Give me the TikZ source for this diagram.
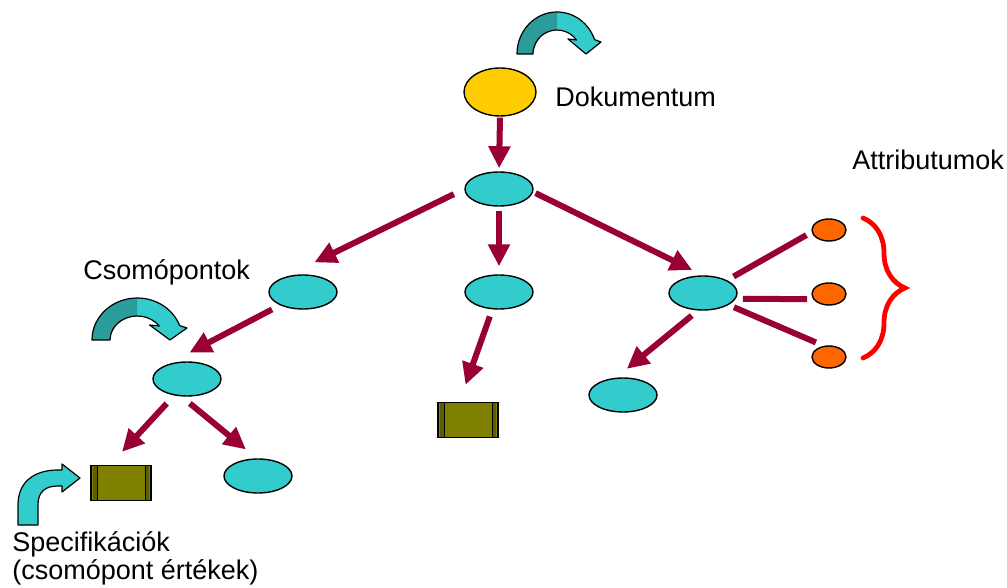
\documentclass[tikz,border=0pt]{standalone}
\usepackage{fontspec}
\setmainfont{Liberation Sans}
\usepackage{xcolor}
\usepackage{tikz}
\usetikzlibrary{shapes.geometric,arrows.meta,decorations.pathreplacing}
\definecolor{arrred}{HTML}{990033}
\definecolor{nodecyan}{HTML}{33CCCC}
\definecolor{docyellow}{HTML}{FFCC00}
\definecolor{attrorange}{HTML}{FF6600}
\definecolor{bracered}{HTML}{FF0000}
\definecolor{specolive}{HTML}{808000}
\definecolor{specdark}{HTML}{5E5E00}
\definecolor{tealL}{HTML}{33CCCC}
\definecolor{tealD}{HTML}{2B9C99}
\tikzset{
  elem/.style={ellipse, draw=black, line width=0.7pt, fill=nodecyan, minimum width=34pt, minimum height=17pt, inner sep=0pt},
  docnode/.style={elem, fill=docyellow, minimum width=36pt, minimum height=24pt},
  attr/.style={elem, fill=attrorange, minimum width=17pt, minimum height=11pt},
  spec/.style={rectangle, draw=black, line width=0.7pt, fill=specolive, minimum width=30pt, minimum height=17.5pt, inner sep=0pt,
    path picture={
      \fill[specdark] ([xshift=1pt]path picture bounding box.south west) rectangle ([xshift=3pt]path picture bounding box.north west);
      \fill[specdark] ([xshift=-1pt]path picture bounding box.south east) rectangle ([xshift=-3pt]path picture bounding box.north east);
      \draw[line width=0.5pt] ([xshift=3pt]path picture bounding box.south west) -- ([xshift=3pt]path picture bounding box.north west);
      \draw[line width=0.5pt] ([xshift=-3pt]path picture bounding box.south east) -- ([xshift=-3pt]path picture bounding box.north east);
    }},
  arr/.style={draw=arrred, line width=3pt, -{Triangle[length=11pt,width=10.5pt]}},
  link/.style={draw=arrred, line width=3pt},
  curly/.style={draw=bracered, line width=2.4pt, line cap=round, decorate, decoration={brace, amplitude=21pt}},
  lab/.style={font=\fontsize{13.5}{12}\selectfont, inner sep=0pt, anchor=base west, align=left},
  outl/.style={draw=black, line width=0.6pt, line join=round},
  turnarrow/.pic={
    \fill[tealL] (0,0) arc[start angle=180, end angle=340, x radius=40, y radius=42] -- (84,-12) -- (69,0) -- (51,-15) -- (59.5,-14)
      arc[start angle=324.3, end angle=180, radius=24] -- cycle;
    \fill[tealD] (0,0) arc[start angle=180, end angle=270, x radius=40, y radius=42] -- (40,-24)
      arc[start angle=270, end angle=180, radius=24] -- cycle;
    \draw[outl] (0,0) arc[start angle=180, end angle=340, x radius=40, y radius=42] -- (84,-12) -- (69,0) -- (51,-15) -- (59.5,-14)
      arc[start angle=324.3, end angle=180, radius=24] -- cycle;
  }
}

\begin{document}
\begin{tikzpicture}[x=0.5pt, y=-0.5pt]
  \useasboundingbox (0,0) rectangle (1007,588);
  \fill[white] (0,0) rectangle (1007,588);

  \node[docnode] (doc) at (500,92) {};
  \node[elem] (root) at (499,189) {};
  \node[elem] (kidL) at (303,292) {};
  \node[elem] (kidM) at (499,292) {};
  \node[elem] (kidR) at (703,293) {};
  \node[elem] (subL) at (187,379) {};
  \node[elem] (subLL) at (258,476) {};
  \node[elem] (subR) at (623,395) {};
  \node[spec] (specL) at (121,483) {};
  \node[spec] (specM) at (468,420) {};
  \node[attr] (attrA) at (829,230) {};
  \node[attr] (attrB) at (829,294) {};
  \node[attr] (attrC) at (829,357) {};

  \draw[arr, shorten <=0.5pt, shorten >=1.5pt] (doc.south) -- (root.north);
  \draw[arr, shorten <=5.8pt, shorten >=16.7pt] (root.180) -- (kidL.141);
  \draw[arr, shorten <=2pt, shorten >=4pt] (root.south) -- (kidM.north);
  \draw[arr, shorten <=1.3pt, shorten >=6pt] (root.355) -- (kidR.north);
  \draw[arr, shorten <=4.5pt, shorten >=13.5pt] (kidL.210) -- (subL.147);
  \draw[arr, shorten <=5.5pt, shorten >=8.8pt] (subL.232) -- (specL.121);
  \draw[arr, shorten <=5.5pt, shorten >=7pt] (subL.252) -- (subLL.94);
  \draw[arr, shorten <=3.75pt, shorten >=9pt] (kidM.249) -- (specM.115);
  \draw[arr, shorten <=4pt, shorten >=7pt] (kidR.254) -- (subR.112);

  \draw[link, shorten <=3.75pt, shorten >=3pt] (kidR.28) -- (attrA.187);
  \draw[link, shorten <=3.5pt, shorten >=3pt] (kidR.350) -- (attrB.198);
  \draw[link, shorten <=2.9pt, shorten >=4.3pt] (kidR.335) -- (attrC.115);

  \coordinate (braceTop) at (863,218);
  \coordinate (braceBot) at (863,358);
  \draw[curly] (braceTop) -- (braceBot);

  \pic at (517,54) {turnarrow};
  \pic[xscale=1.13] at (92,340) {turnarrow};
  \filldraw[fill=tealL, outl] (18,525) -- (18,505) .. controls (18,482) and (34,470) .. (58,470) -- (62,470) -- (62,464)
    -- (80,478) -- (62,492) -- (62,486) -- (58,486) .. controls (45,486) and (38,492) .. (38,505) -- (38,525) -- cycle;

  \node[lab] (docLab) at (555,107) {Dokumentum};
  \node[lab] (attrLab) at (852,170) {Attributumok};
  \node[lab] (kidLab) at (83,280) {Csomópontok};
  \node[lab] (specLab) at (12,579) {Specifikációk\\(csomópont értékek)};
\end{tikzpicture}
\end{document}
